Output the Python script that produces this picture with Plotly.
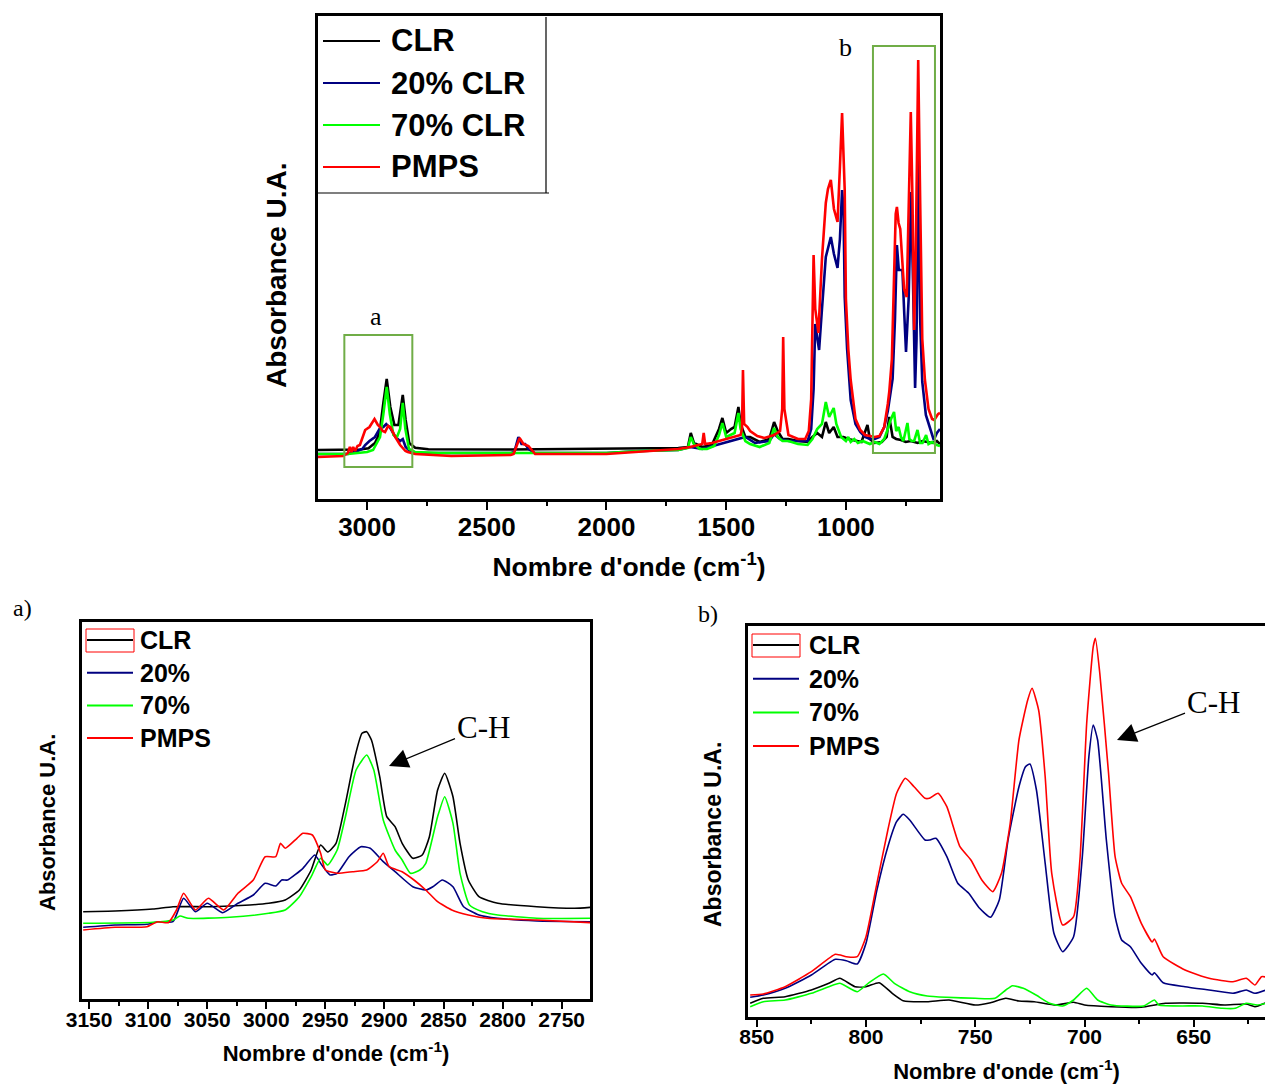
import plotly.graph_objects as go

W, H = 1265, 1084


def fx(p):
    return p / W


def fy(p):
    return 1 - p / H


# ---------------- spectra: full range (cm-1, absorbance a.u.) ----------------
full_wn_clr = [3205, 3100, 3030, 2994, 2967, 2955, 2946, 2932, 2918, 2903, 2886, 2869, 2851, 2839, 2824, 2799, 2744,
               2400, 2000, 1860, 1700, 1660, 1648, 1635, 1600, 1560, 1530, 1516, 1500, 1480, 1465, 1449, 1440, 1420,
               1400, 1360, 1320, 1300, 1285, 1265, 1240, 1200, 1160, 1140, 1120, 1100, 1084, 1070, 1051, 1035, 1010,
               990, 960, 935, 910, 900, 880, 850, 830, 819, 805, 790, 770, 750, 730, 700, 680, 660, 640, 620, 607]
full_abs_clr = [0.49, 0.49, 0.495, 0.507, 0.56, 0.62, 0.69, 0.96, 1.20, 0.92, 0.74, 0.74, 1.04, 0.79, 0.56, 0.513,
                0.497, 0.495, 0.50, 0.505, 0.51, 0.52, 0.66, 0.56, 0.52, 0.54, 0.70, 0.81, 0.66, 0.70, 0.72, 0.92,
                0.75, 0.62, 0.62, 0.57, 0.60, 0.77, 0.68, 0.60, 0.60, 0.58, 0.57, 0.62, 0.66, 0.62, 0.77, 0.66, 0.72,
                0.62, 0.62, 0.60, 0.58, 0.57, 0.74, 0.60, 0.56, 0.57, 0.62, 0.82, 0.62, 0.60, 0.59, 0.57, 0.58, 0.56,
                0.58, 0.57, 0.56, 0.58, 0.55]

full_wn_20 = [3205, 3080, 3060, 3040, 3020, 3008, 2990, 2967, 2946, 2932, 2920, 2903, 2882, 2862, 2851, 2839, 2813,
              2700, 2400, 2385, 2368, 2355, 2340, 2325, 2300, 2000, 1860, 1700, 1650, 1600, 1520, 1480, 1440, 1420,
              1380, 1320, 1300, 1275, 1240, 1200, 1160, 1145, 1135, 1128, 1112, 1100, 1084, 1063, 1050, 1035, 1025,
              1016, 1010, 1005, 995, 980, 960, 940, 920, 900, 880, 860, 840, 825, 815, 805, 795, 787, 779, 764, 756,
              749, 738, 728, 720, 711, 705, 698, 690, 681, 666, 650, 633, 620, 607]
full_abs_20 = [0.45, 0.45, 0.47, 0.48, 0.50, 0.54, 0.58, 0.62, 0.71, 0.72, 0.75, 0.71, 0.62, 0.58, 0.60, 0.52, 0.46,
               0.46, 0.46, 0.47, 0.62, 0.55, 0.55, 0.50, 0.46, 0.46, 0.48, 0.49, 0.52, 0.50, 0.55, 0.58, 0.60, 0.62,
               0.56, 0.58, 0.65, 0.60, 0.58, 0.58, 0.58, 0.70, 1.10, 1.75, 1.49, 1.90, 2.42, 2.62, 2.45, 2.31, 2.60,
               3.09, 2.90, 2.02, 1.50, 0.99, 0.75, 0.67, 0.62, 0.60, 0.60, 0.62, 0.72, 0.88, 1.05, 1.20, 1.80, 2.54,
               2.29, 2.29, 1.84, 1.47, 2.0, 3.07, 2.2, 1.11, 1.6, 3.4, 1.8, 1.17, 0.84, 0.72, 0.59, 0.66, 0.70]

full_wn_70 = [3205, 3080, 3040, 3000, 2975, 2960, 2946, 2932, 2918, 2905, 2890, 2875, 2862, 2851, 2840, 2825, 2800,
              2700, 2000, 1860, 1700, 1660, 1648, 1635, 1610, 1580, 1550, 1530, 1516, 1500, 1480, 1465, 1449, 1440,
              1420, 1400, 1360, 1320, 1300, 1285, 1265, 1240, 1200, 1160, 1140, 1120, 1100, 1084, 1070, 1051, 1040,
              1020, 1000, 990, 980, 965, 950, 930, 900, 880, 860, 840, 825, 815, 799, 790, 780, 770, 760, 743, 735,
              725, 715, 701, 690, 680, 665, 655, 640, 620, 607]
full_abs_70 = [0.45, 0.45, 0.46, 0.47, 0.49, 0.55, 0.62, 0.85, 1.12, 0.85, 0.64, 0.62, 0.70, 0.96, 0.70, 0.50, 0.47,
               0.46, 0.46, 0.48, 0.49, 0.51, 0.62, 0.55, 0.50, 0.50, 0.53, 0.64, 0.76, 0.62, 0.64, 0.66, 0.86, 0.70,
               0.58, 0.55, 0.52, 0.56, 0.71, 0.62, 0.58, 0.58, 0.55, 0.54, 0.60, 0.70, 0.75, 0.97, 0.82, 0.91, 0.75,
               0.62, 0.58, 0.62, 0.57, 0.60, 0.56, 0.58, 0.55, 0.57, 0.55, 0.60, 0.70, 0.78, 0.87, 0.68, 0.72, 0.62,
               0.58, 0.76, 0.60, 0.58, 0.58, 0.69, 0.56, 0.56, 0.64, 0.55, 0.57, 0.54, 0.53]

full_wn_pmps = [3205, 3100, 3080, 3072, 3065, 3058, 3050, 3040, 3030, 3008, 2990, 2980, 2969, 2955, 2946, 2935, 2925,
                2912, 2903, 2882, 2862, 2840, 2830, 2799, 2648, 2400, 2388, 2363, 2347, 2326, 2298, 2000, 1860, 1750,
                1700, 1650, 1620, 1600, 1594, 1588, 1560, 1530, 1500, 1470, 1440, 1434, 1430, 1425, 1411, 1400, 1370,
                1340, 1300, 1275, 1266, 1262, 1257, 1240, 1200, 1170, 1155, 1145, 1135, 1128, 1115, 1100, 1084, 1075,
                1063, 1050, 1035, 1025, 1016, 1008, 1005, 1000, 990, 980, 960, 940, 920, 900, 880, 860, 840, 825, 819,
                808, 800, 792, 787, 780, 773, 765, 757, 746, 738, 729, 722, 715, 708, 698, 690, 681, 670, 655, 640,
                631, 615, 607]
full_abs_pmps = [0.42, 0.43, 0.46, 0.52, 0.47, 0.52, 0.48, 0.53, 0.54, 0.69, 0.72, 0.76, 0.80, 0.74, 0.72, 0.68, 0.67,
                 0.73, 0.72, 0.62, 0.54, 0.48, 0.47, 0.45, 0.43, 0.44, 0.45, 0.61, 0.55, 0.53, 0.45, 0.45, 0.47, 0.49,
                 0.50, 0.52, 0.54, 0.55, 0.66, 0.55, 0.56, 0.58, 0.60, 0.62, 0.64, 0.70, 1.29, 0.75, 0.72, 0.68, 0.63,
                 0.61, 0.64, 0.68, 0.90, 1.62, 0.90, 0.64, 0.60, 0.60, 0.68, 1.00, 2.44, 1.90, 1.66, 2.40, 2.96, 3.10,
                 3.19, 2.90, 2.77, 3.32, 3.86, 3.30, 3.09, 2.00, 1.50, 1.19, 0.80, 0.69, 0.64, 0.63, 0.62, 0.63, 0.72,
                 0.95, 1.07, 1.40, 2.20, 2.85, 2.92, 2.76, 2.70, 2.40, 2.10, 2.02, 2.90, 3.87, 3.00, 1.69, 2.50, 4.39,
                 3.00, 1.60, 1.19, 0.90, 0.80, 0.79, 0.85, 0.86]

# ---------------- zoom a): C-H stretching region ----------------
a_wn_clr = [3155, 3128, 3096, 3079, 3047, 3014, 2998, 2984, 2972, 2962, 2954, 2948, 2941, 2933, 2925, 2919, 2915,
            2911, 2904, 2898, 2891, 2885, 2876, 2868, 2862, 2855, 2849, 2842, 2836, 2829, 2820, 2804, 2771, 2739, 2725]
a_abs_clr = [0.873, 0.88, 0.90, 0.923, 0.923, 0.94, 0.957, 0.99, 1.09, 1.29, 1.54, 1.47, 1.557, 1.957, 2.42, 2.657,
             2.673, 2.59, 2.223, 1.823, 1.723, 1.557, 1.407, 1.44, 1.62, 2.09, 2.257, 2.023, 1.557, 1.19, 1.023, 0.957,
             0.923, 0.907, 0.917]

a_wn_20 = [3155, 3128, 3101, 3092, 3079, 3070, 3060, 3050, 3037, 3024, 3011, 3001, 2992, 2987, 2982, 2969, 2959, 2953,
           2946, 2940, 2930, 2920, 2912, 2901, 2891, 2876, 2865, 2859, 2851, 2842, 2833, 2820, 2804, 2771, 2725]
a_abs_20 = [0.717, 0.74, 0.747, 0.773, 0.773, 1.007, 0.873, 0.957, 0.863, 0.957, 1.04, 1.157, 1.13, 1.19, 1.19, 1.307,
            1.44, 1.34, 1.24, 1.257, 1.423, 1.523, 1.507, 1.373, 1.273, 1.123, 1.09, 1.123, 1.19, 1.123, 0.923, 0.84,
            0.807, 0.78, 0.773]

a_wn_70 = [3155, 3096, 3079, 3073, 3066, 3031, 2998, 2984, 2972, 2962, 2954, 2948, 2940, 2933, 2924, 2915, 2909, 2901,
           2891, 2885, 2878, 2870, 2865, 2855, 2849, 2842, 2836, 2828, 2817, 2804, 2771, 2725]
a_abs_70 = [0.757, 0.767, 0.79, 0.83, 0.807, 0.817, 0.857, 0.89, 1.023, 1.223, 1.407, 1.34, 1.49, 1.823, 2.29, 2.44,
            2.29, 1.79, 1.49, 1.39, 1.257, 1.29, 1.357, 1.823, 2.023, 1.757, 1.257, 0.94, 0.873, 0.84, 0.807, 0.807]

a_wn_pmps = [3155, 3128, 3101, 3092, 3083, 3076, 3070, 3060, 3049, 3036, 3024, 3011, 3001, 2992, 2988, 2984, 2974,
             2969, 2961, 2954, 2950, 2940, 2927, 2915, 2906, 2901, 2896, 2885, 2875, 2865, 2855, 2843, 2829, 2813,
             2771, 2725]
a_abs_pmps = [0.69, 0.717, 0.723, 0.773, 0.763, 0.89, 1.057, 0.89, 1.007, 0.89, 1.057, 1.19, 1.423, 1.423, 1.557,
              1.507, 1.607, 1.657, 1.64, 1.457, 1.29, 1.257, 1.273, 1.29, 1.373, 1.457, 1.323, 1.273, 1.19, 1.09,
              0.973, 0.89, 0.84, 0.807, 0.79, 0.763]

# ---------------- zoom b): 850-620 cm-1 region ----------------
b_wn_clr = [853, 847, 837, 825, 817, 812, 805, 800, 794, 788, 783, 772, 762, 750, 743, 736, 730, 723, 713, 705, 700,
            688, 674, 663, 646, 636, 626, 622, 617]
b_abs_clr = [0.137, 0.187, 0.203, 0.27, 0.337, 0.387, 0.303, 0.303, 0.343, 0.237, 0.163, 0.153, 0.17, 0.12, 0.143,
             0.187, 0.16, 0.153, 0.12, 0.147, 0.12, 0.103, 0.097, 0.137, 0.137, 0.12, 0.13, 0.103, 0.143]

b_wn_20 = [853, 847, 837, 825, 814, 809, 804, 800, 795, 790, 786, 783, 780, 773, 771, 768, 763, 758, 753, 748, 743,
           739, 735, 730, 727, 725, 722, 718, 714, 710, 705, 701, 698, 696, 694, 690, 686, 683, 679, 674, 669, 668,
           664, 654, 643, 632, 626, 622, 617]
b_abs_20 = [0.197, 0.22, 0.287, 0.42, 0.577, 0.563, 0.53, 0.737, 1.27, 1.703, 1.953, 2.027, 1.97, 1.77, 1.77, 1.787,
            1.603, 1.337, 1.237, 1.087, 0.997, 1.17, 1.77, 2.303, 2.503, 2.53, 2.27, 1.537, 0.837, 0.653, 0.803, 1.603,
            2.603, 2.92, 2.77, 1.77, 1.003, 0.77, 0.703, 0.537, 0.42, 0.443, 0.343, 0.303, 0.27, 0.237, 0.27, 0.237,
            0.27]

b_wn_70 = [853, 847, 837, 825, 817, 812, 804, 799, 792, 787, 780, 772, 763, 750, 741, 736, 733, 728, 722, 716, 710,
           705, 699, 694, 688, 673, 668, 666, 646, 637, 631, 626, 621, 617]
b_abs_70 = [0.103, 0.153, 0.17, 0.237, 0.303, 0.337, 0.253, 0.337, 0.43, 0.337, 0.253, 0.21, 0.197, 0.187, 0.187,
            0.27, 0.313, 0.287, 0.217, 0.137, 0.11, 0.17, 0.287, 0.17, 0.12, 0.11, 0.17, 0.12, 0.11, 0.087, 0.087,
            0.137, 0.12, 0.137]

b_wn_pmps = [853, 847, 837, 825, 814, 809, 804, 800, 795, 790, 786, 782, 778, 773, 771, 767, 763, 757, 752, 747, 742,
             738, 734, 730, 726, 724, 721, 718, 715, 710, 705, 702, 699, 696, 695, 693, 689, 686, 683, 679, 674, 669,
             668, 664, 654, 643, 632, 626, 622, 619, 617]
b_abs_pmps = [0.22, 0.23, 0.303, 0.453, 0.627, 0.603, 0.603, 0.803, 1.337, 1.87, 2.237, 2.387, 2.303, 2.187, 2.187,
              2.237, 2.103, 1.703, 1.57, 1.37, 1.253, 1.437, 1.937, 2.77, 3.17, 3.287, 3.07, 2.403, 1.437, 0.92, 1.003,
              1.603, 2.937, 3.703, 3.787, 3.437, 2.437, 1.603, 1.337, 1.203, 0.937, 0.75, 0.78, 0.603, 0.47, 0.387,
              0.353, 0.387, 0.32, 0.403, 0.40]

# legend labels
full_labels = ["CLR", "20% CLR", "70% CLR", "PMPS"]
zoom_labels = ["CLR", "20%", "70%", "PMPS"]

# highlighted regions in the full spectrum (wavenumber limits, absorbance limits)
box_a = (3095, 2811, 0.32, 1.64)
box_b = (887, 628, 0.46, 4.53)

COLORS = ["#000000", "#000080", "#00FF00", "#FF0000"]
SANS = "Liberation Sans, Arial, sans-serif"
SERIF = "Liberation Serif, Times New Roman, serif"

fig = go.Figure()

panels = [
    ("x", "y", [(full_wn_clr, full_abs_clr), (full_wn_20, full_abs_20), (full_wn_70, full_abs_70),
                (full_wn_pmps, full_abs_pmps)], 2.6, "linear"),
    ("x2", "y2", [(a_wn_clr, a_abs_clr), (a_wn_20, a_abs_20), (a_wn_70, a_abs_70), (a_wn_pmps, a_abs_pmps)], 1.6,
     "spline"),
    ("x3", "y3", [(b_wn_clr, b_abs_clr), (b_wn_20, b_abs_20), (b_wn_70, b_abs_70), (b_wn_pmps, b_abs_pmps)], 1.6,
     "spline"),
]
for xa, ya, series, lw, shape in panels:
    for (wn, ab), color, name in zip(series, COLORS, full_labels):
        line = dict(color=color, width=lw, shape=shape)
        if shape == "spline":
            line["smoothing"] = 0.5
        fig.add_trace(go.Scatter(x=wn, y=ab, mode="lines", name=name, showlegend=False,
                                 line=line, xaxis=xa, yaxis=ya, hoverinfo="x+y+name"))


def xaxis_style(domain, rng, dtick, minor, tsize, title_size, standoff, lw, ticklen, lab_shift):
    return dict(domain=domain, range=rng, autorange=False, showline=True, linecolor="black", linewidth=lw,
                mirror=True, ticks="outside", ticklen=ticklen, tickwidth=2, tickcolor="black",
                tick0=0, dtick=dtick, ticklabelstandoff=lab_shift,
                minor=dict(dtick=minor, ticks="outside", ticklen=int(ticklen * 0.6), tickwidth=2, tickcolor="black"),
                tickfont=dict(family=SANS, size=tsize, color="black", weight="bold"),
                showgrid=False, zeroline=False, automargin=False,
                title=dict(text="Nombre d'onde (cm<sup>-1</sup>)", standoff=standoff,
                           font=dict(family=SANS, size=title_size, color="black", weight="bold")))


def yaxis_style(domain, rng, lw, mirror=True):
    return dict(domain=domain, range=rng, autorange=False, showline=True, linecolor="black", linewidth=lw,
                mirror=mirror, ticks="", showticklabels=False, showgrid=False, zeroline=False, automargin=False)


shapes = []
annotations = []


def hline(x0, x1, y, color="black", width=1.5):
    shapes.append(dict(type="line", xref="paper", yref="paper", x0=fx(x0), x1=fx(x1), y0=fy(y), y1=fy(y),
                       line=dict(color=color, width=width)))


def text(x, y, s, size, family=SANS, bold=True, xanchor="left", angle=0):
    annotations.append(dict(xref="paper", yref="paper", x=fx(x), y=fy(y), text=s, showarrow=False,
                            xanchor=xanchor, yanchor="middle", textangle=angle,
                            font=dict(family=family, size=size, color="black",
                                      weight="bold" if bold else "normal")))


# y-axis titles
text(277, 275, "Absorbance U.A.", 28, xanchor="center", angle=-90)
text(47, 823, "Absorbance U.A.", 22, xanchor="center", angle=-90)
text(713, 835, "Absorbance U.A.", 23, xanchor="center", angle=-90)

# legend of the full spectrum
for i, (lab, col) in enumerate(zip(full_labels, COLORS)):
    yy = 41 + 42 * i
    hline(323, 380, yy, col, 2)
    text(389, yy, lab, 31)
shapes.append(dict(type="line", xref="paper", yref="paper", x0=fx(546), x1=fx(546), y0=fy(17), y1=fy(193),
                   line=dict(color="black", width=1.2)))
hline(318, 549, 193, "black", 1.2)

# legends of the two zoomed panels
for x_line, x_text, y0, step in [(87, 138, 640, 32.7), (753, 807, 645, 33.7)]:
    for i, (lab, col) in enumerate(zip(zoom_labels, COLORS)):
        yy = y0 + step * i
        hline(x_line, x_line + 46, yy, col, 2)
        text(x_text, yy, lab, 25)
    shapes.append(dict(type="rect", xref="paper", yref="paper", x0=fx(x_line - 1), x1=fx(x_line + 47),
                       y0=fy(y0 - 11), y1=fy(y0 + 12), line=dict(color="#FF0000", width=1)))

# highlighted regions
for (x0, x1, y0, y1) in (box_a, box_b):
    shapes.append(dict(type="rect", xref="x", yref="y", x0=x0, x1=x1, y0=y0, y1=y1,
                       line=dict(color="#70AD47", width=2)))

text(376, 316, "a", 26, SERIF, False, "center")
text(845, 47, "b", 26, SERIF, False, "center")
text(22, 608, "a)", 24, SERIF, False, "center")
text(708, 614, "b)", 24, SERIF, False, "center")

# C-H arrows
for tip_x, tip_y, tx, ty in [(389, 766, 483, 727), (1117, 740, 1213, 702)]:
    annotations.append(dict(xref="paper", yref="paper", x=fx(tip_x), y=fy(tip_y), ax=tx - tip_x, ay=ty - tip_y,
                            axref="pixel", ayref="pixel", text="C-H", showarrow=True,
                            arrowhead=2, arrowsize=3.2, arrowwidth=1.2, arrowcolor="black", standoff=0,
                            font=dict(family=SERIF, size=31, color="black")))

fig.update_layout(
    template="none",
    width=W, height=H,
    margin=dict(l=0, r=0, t=0, b=0),
    paper_bgcolor="white", plot_bgcolor="white",
    font=dict(family=SANS, color="black"),
    showlegend=False,
    xaxis=xaxis_style([fx(318), fx(940)], [3205, 607], 500, 250, 26, 26.5, 17, 3, 8, -5),
    yaxis=yaxis_style([fy(499), fy(16)], [0, 4.83], 3),
    xaxis2=xaxis_style([fx(82), fx(590)], [3156, 2726], 50, 25, 21, 22, 16, 2.5, 7, -7),
    yaxis2=yaxis_style([fy(999), fy(622)], [0, 3.77], 2.5),
    xaxis3=xaxis_style([fx(748), 1.0], [854, 617.4], 50, 25, 21, 22, 18, 2.5, 7, -8),
    yaxis3=yaxis_style([fy(1017), fy(626)], [0, 3.91], 2.5, mirror=False),
    shapes=shapes,
    annotations=annotations,
)
fig.update_layout(xaxis2=dict(anchor="y2"), yaxis2=dict(anchor="x2"),
                  xaxis3=dict(anchor="y3"), yaxis3=dict(anchor="x3"))

fig.write_html("out.html")
